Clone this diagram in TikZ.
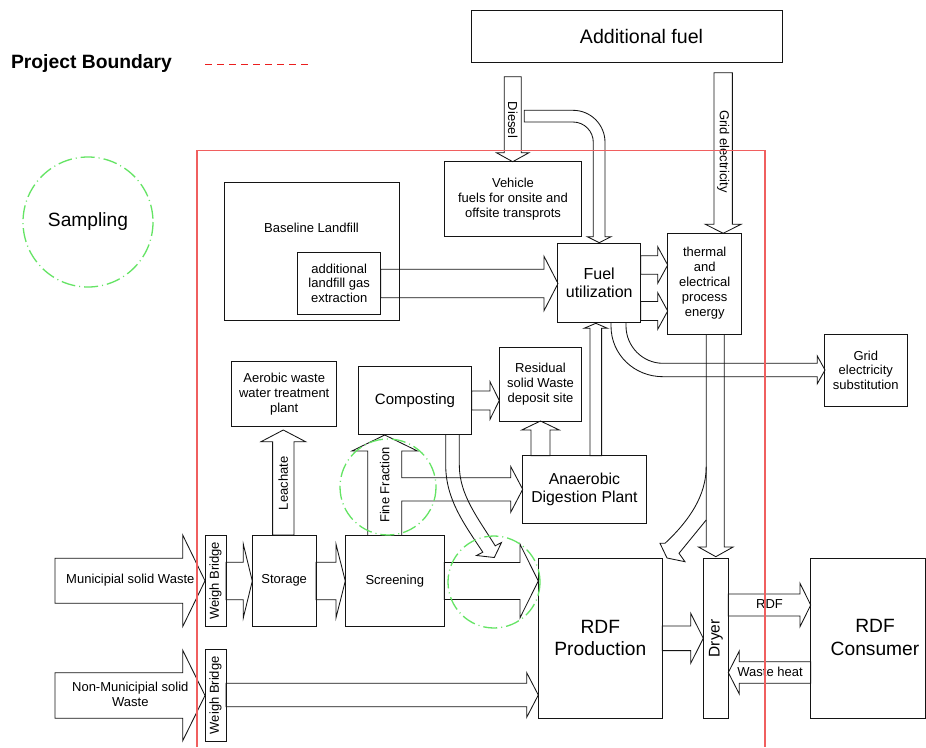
\documentclass[tikz,border=0pt]{standalone}
\usepackage{fontspec}
\setmainfont{Liberation Sans}
\newcommand\fsz[1]{\fontsize{#1}{\fpeval{1.15*#1}}\selectfont}
\definecolor{sgreen}{RGB}{100,228,100}
\definecolor{bred}{RGB}{240,95,95}
\definecolor{lred}{RGB}{235,30,30}
\definecolor{ink}{RGB}{20,20,20}
% horizontal block arrow: start x, head-base x, tip x, centre y, shaft half, head half
\newcommand\harr[7][]{\draw[ar,#1] (#2,#5-#6) -- (#3,#5-#6) -- (#3,#5-#7) -- (#4,#5) -- (#3,#5+#7) -- (#3,#5+#6) -- (#2,#5+#6) -- cycle;}
% vertical block arrow: start y, head-base y, tip y, centre x, shaft half, head half
\newcommand\varr[7][]{\draw[ar,#1] (#5-#6,#2) -- (#5-#6,#3) -- (#5-#7,#3) -- (#5,#4) -- (#5+#7,#3) -- (#5+#6,#3) -- (#5+#6,#2) -- cycle;}
\tikzset{
  box/.style={draw=ink, line width=0.85pt, inner sep=0pt, align=center, font=\fsz{13}},
  ar/.style={draw=ink, line width=0.85pt, line join=miter},
  lbl/.style={inner sep=0pt, align=center, font=\fsz{13}},
  samp/.style={draw=sgreen, line width=1.3pt, dash pattern=on 14pt off 4pt on 1pt off 4pt},
}
\begin{document}
\begin{tikzpicture}[x=1pt,y=-1pt]
\fill[white] (0,0) rectangle (926,747);
\useasboundingbox (0,0) rectangle (926,747);

% legend
\node[lbl, font=\fsz{19.3}\bfseries] (pbtxt) at (91.5,64) {Project Boundary};
\coordinate (lg1) at (205,64);
\coordinate (lg2) at (312,64);
\draw[lred, line width=1pt, dash pattern=on 7pt off 5pt] (lg1) -- (lg2);

% boxes
\node[box, minimum width=310.3pt, minimum height=52pt] (addfuel) at (626.9,36) {};
\node[lbl, font=\fsz{19.6}] (addfueltxt) at (641.5,36) {Additional fuel};
\node[box, minimum width=137.4pt, minimum height=75pt] (vehicle) at (513,199.2) {Vehicle\\fuels for onsite and\\offsite transprots};
\node[box, minimum width=174.7pt, minimum height=137.3pt] (landfill) at (311.7,251.4) {};
\node[lbl] (landfilltxt) at (311.5,227.7) {Baseline Landfill};
\node[box, minimum width=83pt, minimum height=62pt] (extract) at (339.2,283.3) {additional\\landfill gas\\extraction};
\node[box, minimum width=83pt, minimum height=79.4pt, font=\fsz{16}] (fuel) at (599.2,283) {Fuel\\utilization};
\node[box, minimum width=74pt, minimum height=101pt] (thermal) at (704.7,283.5) {thermal\\and\\electrical\\process\\energy};
\node[box, minimum width=83pt, minimum height=72.7pt] (gridsub) at (865.8,370.3) {Grid\\electricity\\substitution};
\node[box, minimum width=105pt, minimum height=64.3pt] (aerobic) at (284.2,393.8) {Aerobic waste\\water treatment\\plant};
\node[box, minimum width=113.4pt, minimum height=68.3pt, font=\fsz{15}] (compost) at (415,400.2) {Composting};
\node[box, minimum width=82.4pt, minimum height=73.7pt] (residual) at (540.5,384.2) {Residual\\solid Waste\\deposit site};
\node[box, minimum width=123.3pt, minimum height=67.6pt, font=\fsz{15.8}] (anaer) at (584.4,489.5) {Anaerobic\\Digestion Plant};
\node[box, minimum width=21pt, minimum height=91.7pt] (wb1) at (215.5,580.8) {};
\node[lbl, rotate=90] (wb1txt) at (215.5,580.8) {Weigh Bridge};
\node[box, minimum width=63.7pt, minimum height=91.7pt] (storage) at (284.2,580.8) {Storage};
\node[box, minimum width=99pt, minimum height=91.7pt] (screen) at (394.8,580.8) {Screening};
\node[box, minimum width=21pt, minimum height=91.7pt] (wb2) at (215.5,695.2) {};
\node[lbl, rotate=90] (wb2txt) at (215.5,695.2) {Weigh Bridge};
\node[box, minimum width=124pt, minimum height=160pt, font=\fsz{19.2}] (rdfprod) at (600.3,638.3) {RDF\\Production};
\node[box, minimum width=25pt, minimum height=160pt] (dryer) at (715.8,638.3) {};
\node[lbl, rotate=90, font=\fsz{15.5}] (dryertxt) at (715.8,638.3) {Dryer};
\node[box, minimum width=114.8pt, minimum height=160pt] (consumer) at (868.1,638.3) {};
\node[lbl, font=\fsz{19.2}] (consumertxt) at (875,637.5) {RDF\\Consumer};

% straight block arrows
\varr{76.7}{152.7}{161.7}{512.7}{8.5}{16.3}
\node[lbl, rotate=-90] (dieseltxt) at (512.7,120) {Diesel};
\varr{72.7}{224.3}{233.3}{723.2}{9.2}{17.8}
\node[lbl, rotate=-90] (gridtxt) at (723.2,151.5) {Grid electricity};
\harr{380.7}{544}{558}{283.5}{14.2}{27.2}
\harr{640.7}{657.7}{667.7}{265}{9.2}{18.3}
\harr{640.7}{657.7}{667.7}{311}{9.5}{18.3}
\harr{471.7}{490}{499.3}{400.5}{9.5}{18.8}
\varr{535}{441.7}{430}{283.3}{10.7}{22.3}
\node[lbl, rotate=90] (leachtxt) at (283.3,483.3) {Leachate};
\varr{455.7}{430}{421}{540.5}{9.5}{18.8}
\varr{455.7}{328.3}{323.3}{595.8}{5.8}{11.7}
\harr{55}{182.7}{205}{580.8}{22.5}{45.8}
\node[lbl] (mswtxt) at (130.3,580.5) {Municipial solid Waste};
\harr{226}{243.3}{252.3}{581}{18.7}{36.8}
\harr{316}{336}{345.3}{581}{18.7}{36.8}
\harr{444.3}{520}{538.3}{581}{18.5}{36.8}
\harr{55}{182.7}{205}{695.5}{22.8}{45.3}
\node[lbl] (nmswtxt) at (130.3,694) {Non-Municipial solid\\Waste};
\harr{226}{526.7}{538.3}{695}{11.7}{22.3}
\harr{662.3}{690.7}{703.3}{638.3}{12.3}{25}
\harr{728.3}{800}{810.7}{605}{11}{21.7}
\node[lbl] (rdftxt) at (769.5,604) {RDF};
\harr{810.7}{739.3}{728.3}{672.5}{10.8}{21.5}
\node[lbl] (wastetxt) at (770,672) {Waste heat};

% fine fraction arrow with side branch to anaerobic digestion
\draw[ar] (367.7,535) -- (367.7,451) -- (351.9,451) -- (384.7,435) -- (417.5,451) -- (401.7,451) -- (401.7,477.7)
  -- (510.7,477.7) -- (510.7,466.5) -- (522.7,489.3) -- (510.7,512.3) -- (510.7,501) -- (401.7,501) -- (401.7,535);
\node[lbl, rotate=90] (finetxt) at (384.7,485) {Fine Fraction};

% diesel bent arrow to fuel utilization
\draw[ar] (593.3,236.7) -- (593.3,142.3) .. controls (593.3,131.1) and (584.2,122) .. (573,122) -- (524.3,122)
  -- (524.3,110.3) -- (573,110.3) .. controls (590.7,110.3) and (605,124.6) .. (605,142.3) -- (605,236.7)
  -- (611,236.7) -- (599.2,242.7) -- (587.3,236.7) -- cycle;

% fuel utilization -> grid electricity substitution
\draw[ar] (626,322.7) -- (626,326) .. controls (626,346.4) and (642.6,363.3) .. (663,363.3) -- (817.3,363.3)
  -- (817.3,356) -- (825,370) -- (817.3,383.7) -- (817.3,376.7) -- (663,376.7)
  .. controls (634.3,376.7) and (611,354.7) .. (611,326) -- (611,322.7);

% thermal -> dryer, with branch to RDF production
\draw[ar] (706.2,334) -- (706.2,547) -- (698.5,547) -- (715.8,556.7) -- (733.1,547) -- (724.2,547) -- (724.2,334);
\draw[ar] (706.2,466.7) .. controls (706.2,495) and (690,520) .. (665,543.3) -- (660,543.3) -- (667,558)
  -- (685,561.7) -- (679,553.3) -- (706.2,520);

% composting -> RDF production (bent)
\draw[ar] (445.7,434.3) -- (445.7,465) .. controls (445.7,500) and (465,525) .. (482.8,552.2) -- (476.5,555.5)
  -- (494.3,557.5) -- (501.5,542.5) -- (495.2,545.8) .. controls (478,518) and (459.3,495) .. (459.3,465) -- (459.3,434.3);

% project boundary
\coordinate (pb1) at (197,747);
\coordinate (pb2) at (197,150.7);
\coordinate (pb3) at (765,150.7);
\coordinate (pb4) at (765,747);
\draw[bred, line width=1.2pt] (pb1) -- (pb2) -- (pb3) -- (pb4);

% sampling circles
\node[draw=none, circle, minimum size=130pt, inner sep=0pt, font=\fsz{19.2}] (sampling) at (88,222) {Sampling};
\draw[samp] (sampling.center) circle[radius=65];
\coordinate (s1) at (388,487);
\coordinate (s2) at (494,582);
\draw[samp] (s1) circle[radius=48];
\draw[samp] (s2) circle[radius=46];
\end{tikzpicture}
\end{document}
